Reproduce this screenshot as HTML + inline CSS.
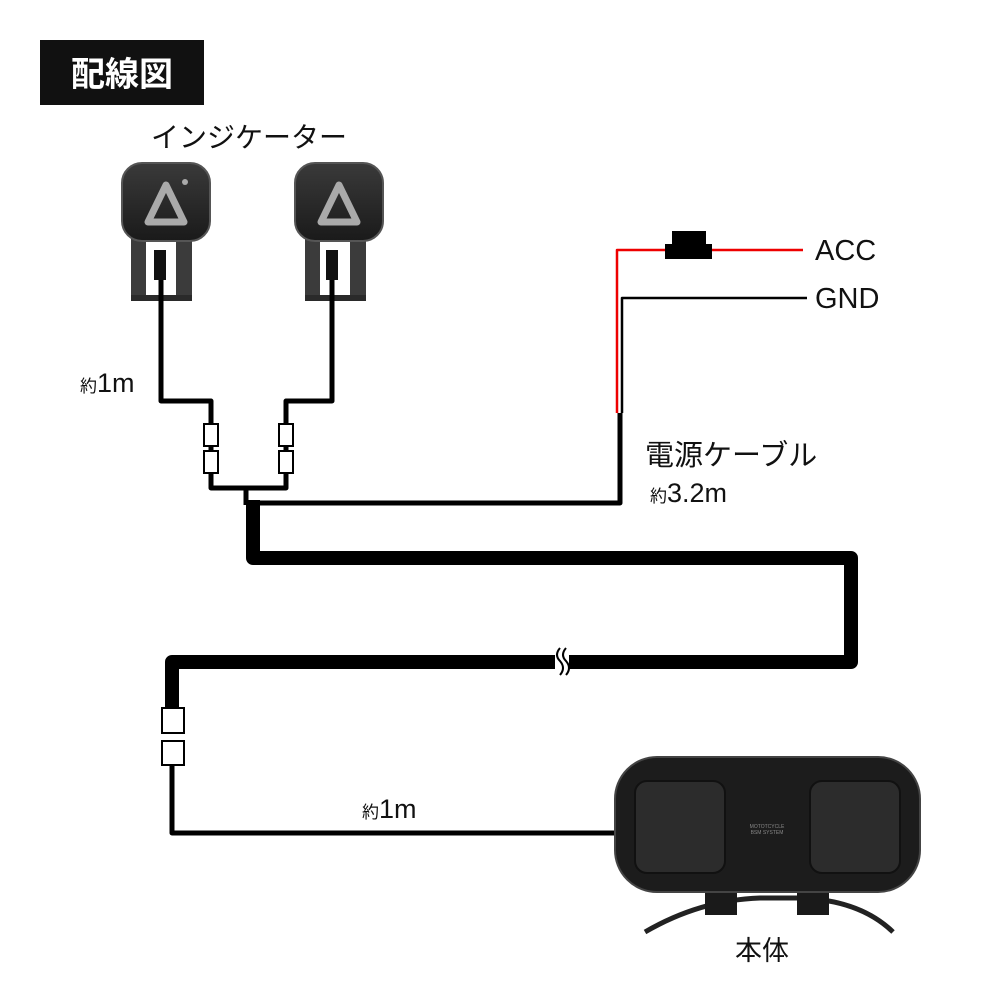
<!DOCTYPE html>
<html><head><meta charset="utf-8"><style>
body{margin:0;background:#fff;width:1000px;height:1000px;overflow:hidden;font-family:"Liberation Sans","Noto Sans CJK JP",sans-serif}
</style></head><body>
<svg width="1000" height="1000" xmlns="http://www.w3.org/2000/svg" style="position:absolute;left:0;top:0">
<defs>
<linearGradient id="g1" x1="0" y1="0" x2="0" y2="1"><stop offset="0" stop-color="#3a3a3a"/><stop offset="1" stop-color="#1a1a1a"/></linearGradient>
</defs>
<rect x="40" y="40" width="164" height="65" fill="#111"/>
<text x="122" y="86" font-size="34" font-weight="bold" fill="#fff" text-anchor="middle" font-family="Noto Sans CJK JP,sans-serif">配線図</text>
<text x="151" y="147" font-size="28" fill="#111" font-family="Noto Sans CJK JP,sans-serif">インジケーター</text>

<!-- indicators -->
<g>
<rect x="131" y="235" width="15" height="65" fill="#3b3b3b"/>
<rect x="176" y="235" width="16" height="65" fill="#3b3b3b"/>
<rect x="131" y="295" width="61" height="6" fill="#2a2a2a"/>
<rect x="154" y="250" width="12" height="30" fill="#111"/>
<rect x="122" y="163" width="88" height="78" rx="20" fill="url(#g1)" stroke="#555" stroke-width="2"/>
<polygon points="166,185 148,222 184,222" fill="none" stroke="#aaa" stroke-width="7" stroke-linejoin="round"/>
<circle cx="185" cy="182" r="3" fill="#aaa"/>
<rect x="305" y="235" width="15" height="65" fill="#3b3b3b"/>
<rect x="350" y="235" width="16" height="65" fill="#3b3b3b"/>
<rect x="305" y="295" width="61" height="6" fill="#2a2a2a"/>
<rect x="326" y="250" width="12" height="30" fill="#111"/>
<rect x="295" y="163" width="88" height="78" rx="20" fill="url(#g1)" stroke="#555" stroke-width="2"/>
<polygon points="339,185 321,222 357,222" fill="none" stroke="#aaa" stroke-width="7" stroke-linejoin="round"/>
</g>

<g fill="none" stroke="#000" stroke-linejoin="round">
<polyline points="161,280 161,401 211,401 211,488 286,488 286,401 332,401 332,280" stroke-width="5"/>
<polyline points="246,488 246,505" stroke-width="5"/>
<polyline points="255,503 620,503 620,413" stroke-width="5"/>
<polyline points="253,500 253,558 851,558 851,662 172,662 172,710" stroke-width="14"/>
<polyline points="172,760 172,833 615,833" stroke-width="5"/>
<polyline points="617,413 617,250 803,250" stroke="#e00" stroke-width="2.5"/>
<polyline points="622,413 622,298 807,298" stroke="#000" stroke-width="2.5"/>
</g>
<rect x="672" y="231" width="34" height="16" fill="#000"/>
<rect x="665" y="244" width="47" height="15" fill="#000"/>
<!-- connectors -->
<g fill="#fff" stroke="#000" stroke-width="2">
<rect x="204" y="424" width="14" height="22"/><rect x="204" y="451" width="14" height="22"/>
<rect x="279" y="424" width="14" height="22"/><rect x="279" y="451" width="14" height="22"/>
<rect x="162" y="708" width="22" height="25"/><rect x="162" y="741" width="22" height="24"/>
</g>
<!-- break -->
<rect x="555" y="650" width="14" height="26" fill="#fff"/>
<path d="M560,648 q-6,7 0,13 q6,7 0,14" fill="none" stroke="#000" stroke-width="2"/>
<path d="M566,648 q-6,7 0,13 q6,7 0,14" fill="none" stroke="#000" stroke-width="2"/>

<text x="815" y="260" font-size="29" fill="#111">ACC</text>
<text x="815" y="308" font-size="29" fill="#111">GND</text>
<text x="645" y="465" font-size="29" fill="#111" font-family="Noto Sans CJK JP,sans-serif">電源ケーブル</text>
<text x="650" y="502" font-size="17" fill="#111" font-family="Noto Sans CJK JP,sans-serif">約<tspan font-size="27" font-family="Liberation Sans">3.2m</tspan></text>
<text x="80" y="392" font-size="17" fill="#111" font-family="Noto Sans CJK JP,sans-serif">約<tspan font-size="27" font-family="Liberation Sans">1m</tspan></text>
<text x="362" y="818" font-size="17" fill="#111" font-family="Noto Sans CJK JP,sans-serif">約<tspan font-size="27" font-family="Liberation Sans">1m</tspan></text>

<!-- body -->
<path d="M645,932 Q700,900 760,898 L800,898 Q860,900 893,932" fill="none" stroke="#222" stroke-width="5"/>
<rect x="705" y="885" width="32" height="30" fill="#1a1a1a"/>
<rect x="797" y="885" width="32" height="30" fill="#1a1a1a"/>
<rect x="615" y="757" width="305" height="135" rx="42" fill="#1c1c1c" stroke="#444" stroke-width="2"/>
<rect x="635" y="781" width="90" height="92" rx="12" fill="#2c2c2c" stroke="#111" stroke-width="2"/>
<rect x="810" y="781" width="90" height="92" rx="12" fill="#2c2c2c" stroke="#111" stroke-width="2"/>
<text x="767" y="828" font-size="5" fill="#888" text-anchor="middle">MOTOTCYCLE</text>
<text x="767" y="834" font-size="5" fill="#888" text-anchor="middle">BSM SYSTEM</text>
<text x="735" y="960" font-size="27" fill="#111" font-family="Noto Sans CJK JP,sans-serif">本体</text>
</svg>
</body></html>
